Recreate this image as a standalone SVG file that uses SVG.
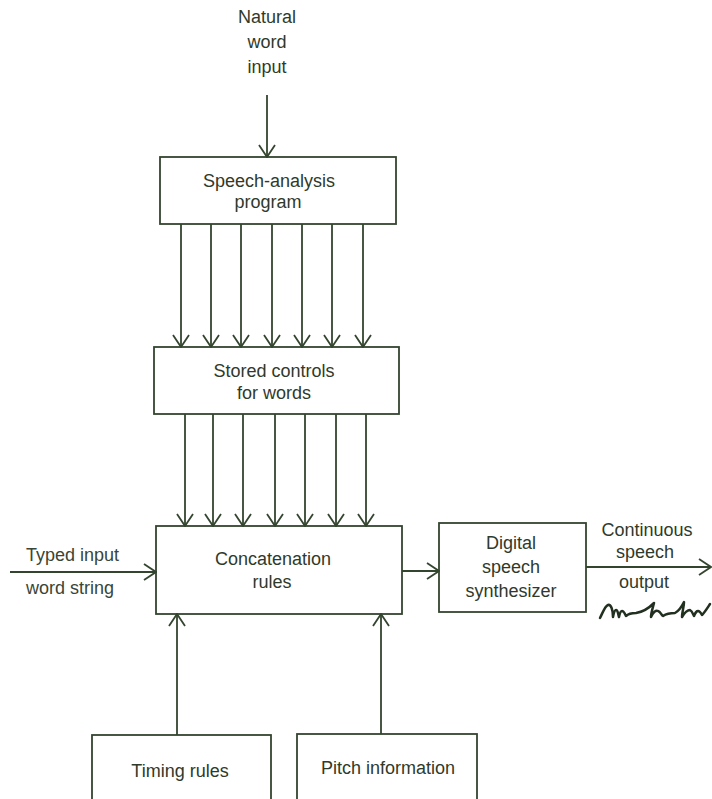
<svg xmlns="http://www.w3.org/2000/svg" width="712" height="799" viewBox="0 0 712 799">
<style>
.box{fill:none;stroke:#34452f;stroke-width:1.8}
.ln{fill:none;stroke:#34452f;stroke-width:1.8}
.t{font-family:"Liberation Sans",Arial,sans-serif;font-size:18px;fill:#2f3a2b;text-anchor:middle}
.tl{font-family:"Liberation Sans",Arial,sans-serif;font-size:18px;fill:#3a4536}
</style>
<defs>
<marker id="ah" viewBox="0 0 14 18" refX="13" refY="9" markerWidth="14" markerHeight="18" markerUnits="userSpaceOnUse" orient="auto">
<path d="M1,1 L13,9 L1,17" fill="none" stroke="#34452f" stroke-width="1.8"/>
</marker>
</defs>
<rect width="712" height="799" fill="#ffffff"/>

<g id="input-label">
<text class="t" x="267" y="23">Natural</text>
<text class="t" x="267" y="48">word</text>
<text class="t" x="267" y="73">input</text>
</g>

<g id="speech-analysis">
<rect class="box" x="160" y="157" width="236" height="67"/>
<text class="t" x="269" y="187">Speech-analysis</text>
<text class="t" x="268" y="208">program</text>
</g>

<g id="stored-controls">
<rect class="box" x="154" y="347" width="245" height="67"/>
<text class="t" x="274" y="377">Stored controls</text>
<text class="t" x="274" y="399">for words</text>
</g>

<g id="concatenation">
<rect class="box" x="156" y="526" width="246" height="88"/>
<text class="t" x="273" y="565">Concatenation</text>
<text class="t" x="272" y="588">rules</text>
</g>

<g id="synthesizer">
<rect class="box" x="439" y="523" width="147" height="89"/>
<text class="t" x="511" y="549">Digital</text>
<text class="t" x="511" y="573">speech</text>
<text class="t" x="511" y="597">synthesizer</text>
</g>

<g id="timing">
<rect class="box" x="92" y="735" width="179" height="80"/>
<text class="t" x="180" y="777">Timing rules</text>
</g>

<g id="pitch">
<rect class="box" x="297" y="734" width="180" height="80"/>
<text class="t" x="388" y="774">Pitch information</text>
</g>

<g id="typed-label">
<text class="tl" x="26" y="561">Typed input</text>
<text class="tl" x="26" y="594">word string</text>
</g>

<g id="output-label">
<text class="t" x="647" y="536">Continuous</text>
<text class="t" x="645" y="558">speech</text>
<text class="t" x="644" y="588">output</text>
<path d="M600,618 C603,612 605,606 608,605 C611,604 613,610 613,617 C614,612 615,610 616,610 C618,610 618,614 619,617 C620,612 621,611 622,611 C624,611 625,614 626,616 C628,614 632,613 636,613 C643,612 650,607 654,603 C653,607 651,613 651,617 C653,612 656,610 658,611 C661,612 661,615 663,616 C666,614 670,613 675,613 C679,611 682,606 684,602 C684,607 682,612 682,617 C685,612 688,610 690,610 C692,611 693,614 694,616 C695,613 697,611 698,611 C700,611 701,613 702,615 C705,612 708,607 710,604" fill="none" stroke="#22301f" stroke-width="2.5" stroke-linecap="round" stroke-linejoin="round"/>
</g>

<g id="connectors">
<line class="ln" x1="267" y1="95" x2="267" y2="157" marker-end="url(#ah)"/>
<line class="ln" x1="181" y1="224" x2="181" y2="347" marker-end="url(#ah)"/>
<line class="ln" x1="211" y1="224" x2="211" y2="347" marker-end="url(#ah)"/>
<line class="ln" x1="241" y1="224" x2="241" y2="347" marker-end="url(#ah)"/>
<line class="ln" x1="272" y1="224" x2="272" y2="347" marker-end="url(#ah)"/>
<line class="ln" x1="302" y1="224" x2="302" y2="347" marker-end="url(#ah)"/>
<line class="ln" x1="332" y1="224" x2="332" y2="347" marker-end="url(#ah)"/>
<line class="ln" x1="363" y1="224" x2="363" y2="347" marker-end="url(#ah)"/>
<line class="ln" x1="185" y1="414" x2="185" y2="526" marker-end="url(#ah)"/>
<line class="ln" x1="213" y1="414" x2="213" y2="526" marker-end="url(#ah)"/>
<line class="ln" x1="243" y1="414" x2="243" y2="526" marker-end="url(#ah)"/>
<line class="ln" x1="275" y1="414" x2="275" y2="526" marker-end="url(#ah)"/>
<line class="ln" x1="305" y1="414" x2="305" y2="526" marker-end="url(#ah)"/>
<line class="ln" x1="336" y1="414" x2="336" y2="526" marker-end="url(#ah)"/>
<line class="ln" x1="366" y1="414" x2="366" y2="526" marker-end="url(#ah)"/>
<line class="ln" x1="10" y1="572" x2="156" y2="572" marker-end="url(#ah)"/>
<line class="ln" x1="402" y1="571" x2="439" y2="571" marker-end="url(#ah)"/>
<line class="ln" x1="586" y1="567" x2="711" y2="567" marker-end="url(#ah)"/>
<line class="ln" x1="177" y1="735" x2="177" y2="614" marker-end="url(#ah)"/>
<line class="ln" x1="381" y1="734" x2="381" y2="614" marker-end="url(#ah)"/>
</g>
</svg>
